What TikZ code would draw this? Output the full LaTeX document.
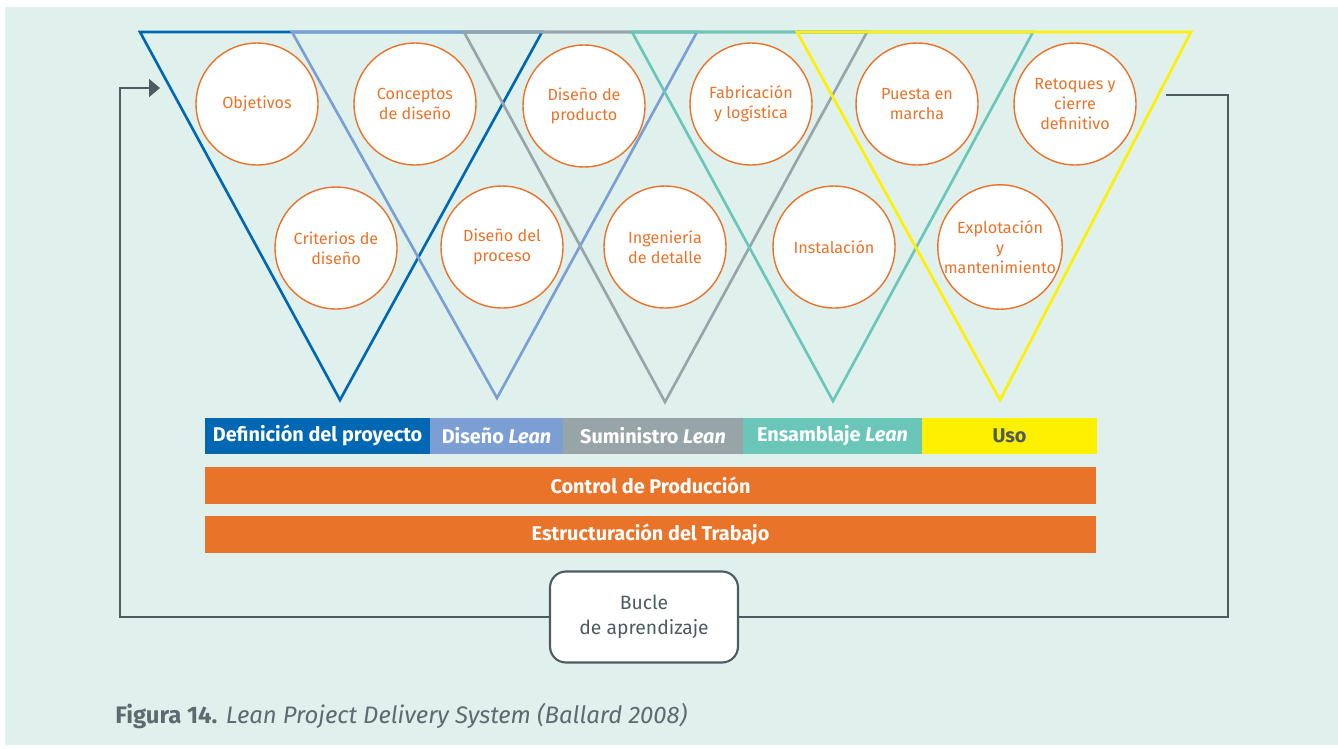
\documentclass[tikz,border=0pt]{standalone}
\usepackage{fontspec}
\setmainfont{Fira Sans}
\usetikzlibrary{arrows.meta}
\definecolor{mint}{HTML}{DFF0ED}
\definecolor{dblue}{HTML}{0068B3}
\definecolor{lblue}{HTML}{7C9FD3}
\definecolor{sgray}{HTML}{97A5A9}
\definecolor{enstl}{HTML}{69C6B9}
\definecolor{usoyel}{HTML}{FFF000}
\definecolor{ctrlor}{HTML}{E97429}
\definecolor{loopgray}{HTML}{4D5C60}
\definecolor{capgray}{HTML}{5B6B6F}
\begin{document}
\begin{tikzpicture}[x=0.02cm,y=-0.02cm,
		tri/.style={line width=1.5pt},
		stage/.style={circle,draw=ctrlor,line width=0.8pt,fill=white,text=ctrlor,minimum size=2.44cm,inner sep=0pt,align=center,font=\fontsize{9.2}{11.5}\selectfont},
		phase/.style={minimum height=0.72cm,inner sep=0pt,text=white,font=\fontsize{11.3}{13}\selectfont\bfseries},
		work/.style={fill=ctrlor,minimum width=17.82cm,minimum height=0.73cm,inner sep=0pt,text=white,font=\fontsize{11.3}{13}\selectfont\bfseries},
		loopline/.style={draw=loopgray,line width=0.8pt}]
		\useasboundingbox[fill=white](0,0)rectangle(1338,748);
		\fill[mint](5,7)rectangle(1338,745);

		% phase triangles
		\draw[tri,dblue](140,32)--(542,32)--(340,400)--cycle;
		\draw[tri,lblue](292,32)--(697,32)--(497,398)--cycle;
		\draw[tri,sgray](464,32)--(867,32)--(665,402)--cycle;
		\draw[tri,enstl](632,32)--(1033,32)--(833,401)--cycle;
		\draw[tri,usoyel](797,32)--(1191,32)--(1000,400)--cycle;

		\node[stage] at (257,104)(obj){Objetivos};
		\node[stage] at (415,104)(con){Conceptos\\de diseño};
		\node[stage] at (584,106)(prod){Diseño de\\producto};
		\node[stage] at (751,104)(fab){Fabricación\\y logística};
		\node[stage] at (917,104)(pue){Puesta en\\marcha};
		\node[stage] at (1075,104)(ret){Retoques y\\cierre\\definitivo};
		\node[stage] at (336,248)(cri){Criterios de\\diseño};
		\node[stage] at (502,247)(proc){Diseño del\\proceso};
		\node[stage] at (665,247)(ing){Ingeniería\\de detalle};
		\node[stage] at (834,247)(ins){Instalación};
		\node[stage] at (1000,247)(exp){Explotación\\y\\mantenimiento};

		% phases
		\node[phase,fill=dblue,minimum width=4.5cm] at (317.5,435.5)(def){Definición del proyecto};
		\node[phase,fill=lblue,minimum width=2.66cm] at (496.5,435.5)(dis){Diseño \textit{Lean}};
		\node[phase,fill=sgray,minimum width=3.6cm] at (653,435.5)(sum){Suministro \textit{Lean}};
		\node[phase,fill=enstl,minimum width=3.58cm] at (832.5,435.5)(ens){Ensamblaje \textit{Lean}};
		\node[phase,fill=usoyel,minimum width=3.5cm,text=loopgray] at (1009.5,435.5)(uso){Uso};
		\node[work] at (650.5,485.5)(ctl){Control de Producción};
		\node[work] at (650.5,534.5)(est){Estructuración del Trabajo};

		% learning loop
		\node[draw=loopgray,line width=1.2pt,fill=white,rounded corners=0.32cm,minimum width=3.76cm,minimum height=1.82cm,align=center,text=loopgray,font=\fontsize{11}{14.5}\selectfont] at (644,617)(bucle){Bucle\\de aprendizaje};
		\coordinate (lc) at (120,88);
		\coordinate (in) at (160,88);
		\coordinate (rc) at (1228,95);
		\coordinate (out) at (1166,95);
		\draw[loopline,-{Triangle[length=0.22cm,width=0.36cm]}](bucle.west)-|(lc)--(in);
		\draw[loopline](bucle.east)-|(rc)--(out);

		\node[anchor=base west,inner sep=0pt,text=capgray,font=\fontsize{13.6}{16}\selectfont] at (115,723)(cap){\textbf{Figura 14.} \textit{Lean Project Delivery System (Ballard 2008)}};
	\end{tikzpicture}
\end{document}
